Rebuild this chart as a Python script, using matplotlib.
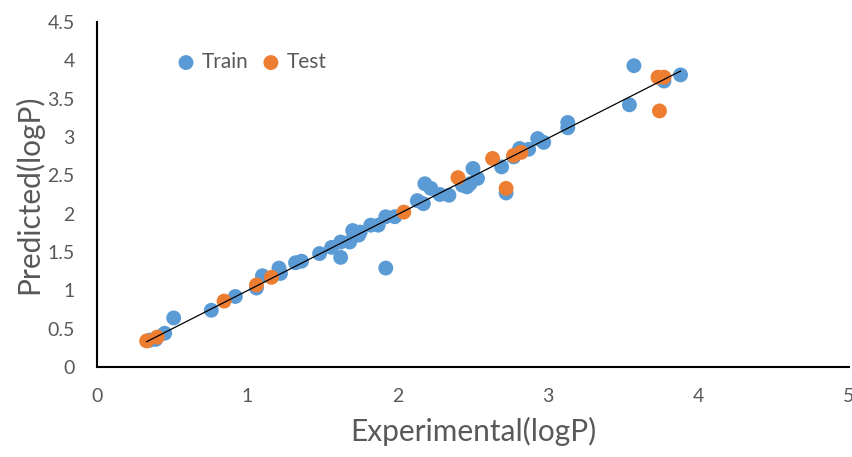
import matplotlib
matplotlib.use("Agg")
import matplotlib.pyplot as plt

train_x = [0.35, 0.39, 0.45, 0.51, 0.76, 0.92, 1.06, 1.10, 1.21, 1.22, 1.32, 1.36, 1.48, 1.56,
           1.62, 1.62, 1.68, 1.70, 1.74, 1.75, 1.82, 1.87, 1.92, 1.98, 1.92, 2.13, 2.17, 2.18,
           2.22, 2.28, 2.34, 2.43, 2.46, 2.48, 2.50, 2.53, 2.69, 2.72, 2.77, 2.81, 2.87, 2.93,
           2.97, 3.13, 3.13, 3.54, 3.57, 3.77, 3.88]
train_y = [0.35, 0.36, 0.44, 0.64, 0.74, 0.92, 1.03, 1.19, 1.29, 1.22, 1.36, 1.38, 1.48, 1.56,
           1.63, 1.43, 1.63, 1.78, 1.72, 1.76, 1.85, 1.85, 1.96, 1.96, 1.29, 2.17, 2.13, 2.39,
           2.33, 2.25, 2.24, 2.37, 2.35, 2.39, 2.59, 2.46, 2.61, 2.27, 2.74, 2.85, 2.84, 2.98,
           2.93, 3.19, 3.12, 3.42, 3.93, 3.73, 3.81]

test_x = [0.33, 0.40, 0.845, 1.06, 1.16, 2.04, 2.40, 2.63, 2.72, 2.77, 2.82, 3.73, 3.77, 3.74]
test_y = [0.34, 0.39, 0.86, 1.07, 1.17, 2.02, 2.47, 2.72, 2.33, 2.76, 2.80, 3.78, 3.78, 3.34]

fit_x = [0.33, 3.88]
fit_y = [0.33, 3.86]

x_ticks = [0, 1, 2, 3, 4, 5]
y_ticks = [0, 0.5, 1, 1.5, 2, 2.5, 3, 3.5, 4, 4.5]
y_tick_labels = ["0", "0.5", "1", "1.5", "2", "2.5", "3", "3.5", "4", "4.5"]

plt.rcParams['font.family'] = ['Lato', 'DejaVu Sans']
gray = '#595959'

fig = plt.figure(figsize=(8.52, 4.57), dpi=100)
ax = fig.add_axes([97/852, 1-367/457, 752/852, 345/457])

ax.scatter(train_x, train_y, s=115, color='#5B9BD5', edgecolors='none', label='Train', zorder=2)
ax.scatter(test_x, test_y, s=115, color='#ED7D31', edgecolors='none', label='Test', zorder=3)
ax.plot(fit_x, fit_y, color='black', linewidth=0.9, zorder=4)

ax.set_xlim(0, 5)
ax.set_ylim(0, 4.5)
ax.set_xticks(x_ticks)
ax.set_yticks(y_ticks)
ax.set_yticklabels(y_tick_labels)
ax.tick_params(length=0, labelsize=14, colors=gray)
ax.tick_params(axis='y', pad=16)
ax.tick_params(axis='x', pad=15)

for s in ['top', 'right']:
    ax.spines[s].set_visible(False)
for s in ['left', 'bottom']:
    ax.spines[s].set_linewidth(1.5)
    ax.spines[s].set_color('black')

ax.set_xlabel('Experimental(logP)', fontsize=21.5, color=gray, labelpad=9)
ax.set_ylabel('Predicted(logP)', fontsize=21.5, color=gray, labelpad=3)

leg = ax.legend(loc='center left', bbox_to_anchor=(0.1045, 0.884), ncol=2, frameon=False,
                fontsize=15, handlelength=1.0, handletextpad=0.27, columnspacing=0.56,
                borderpad=0, borderaxespad=0)
for t in leg.get_texts():
    t.set_color(gray)

fig.savefig('out.png', dpi=100)
